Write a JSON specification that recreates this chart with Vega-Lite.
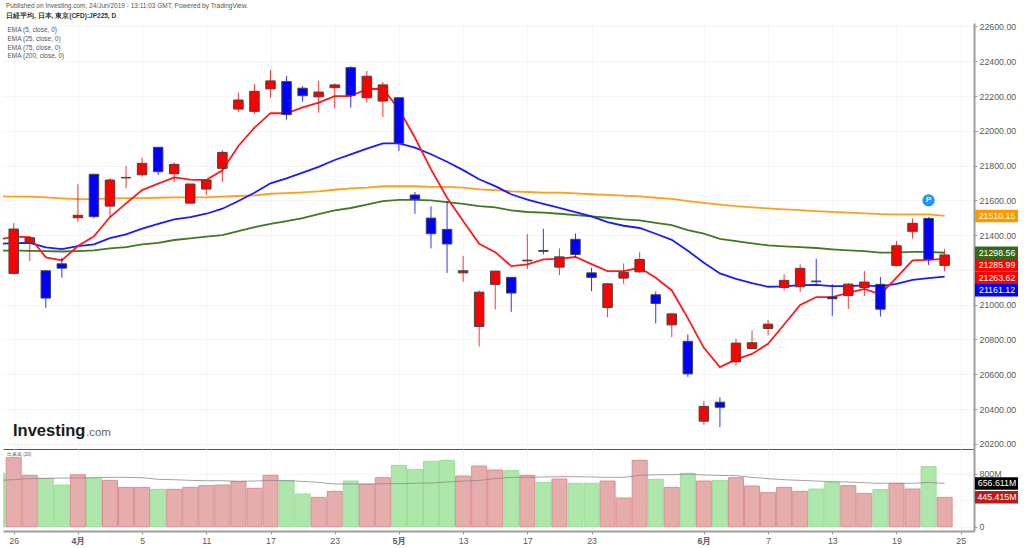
{"$schema":"https://vega.github.io/schema/vega-lite/v6.json","background":"white","padding":{"left":3,"top":2,"right":0,"bottom":0},"autosize":{"type":"pad"},"config":{"font":"Liberation Sans","view":{"stroke":null},"concat":{"spacing":0},"axis":{"gridColor":"#f5f5f5","gridWidth":1,"labelOverlap":false}},"title":{"text":"Published on Investing.com, 24/Jun/2019 - 13:11:03 GMT, Powered by TradingView.","subtitle":"日経平均, 日本, 東京(CFD):JP225, D","anchor":"start","frame":"group","fontSize":6.5,"fontWeight":"normal","color":"#555555","subtitleFontSize":6.5,"subtitleFontWeight":"bold","subtitleColor":"#333333","subtitlePadding":4,"dx":3,"offset":2.5},"datasets":{"days":[{"n":-1,"dir":"down","volume":810,"volMA":703,"ema5":21374,"ema25":21349,"ema75":21310,"ema200":21623},{"n":0,"dir":"up","open":21180,"high":21469,"low":21180,"close":21435,"volume":1047,"volMA":713,"ema5":21391,"ema25":21354,"ema75":21312,"ema200":21622},{"n":1,"dir":"up","open":21356,"high":21395,"low":21251,"close":21385,"volume":779,"volMA":729,"ema5":21389,"ema25":21356,"ema75":21310,"ema200":21621},{"n":2,"dir":"down","open":21195,"high":21195,"low":20982,"close":21038,"volume":734,"volMA":734,"ema5":21272,"ema25":21330,"ema75":21308,"ema200":21617},{"n":3,"dir":"down","open":21235,"high":21270,"low":21155,"close":21210,"volume":632,"volMA":739,"ema5":21255,"ema25":21320,"ema75":21306,"ema200":21611},{"n":4,"dir":"up","open":21500,"high":21692,"low":21477,"close":21514,"volume":789,"volMA":739,"ema5":21337,"ema25":21337,"ema75":21308,"ema200":21607},{"n":5,"dir":"down","open":21750,"high":21751,"low":21496,"close":21506,"volume":734,"volMA":744,"ema5":21393,"ema25":21347,"ema75":21312,"ema200":21607},{"n":6,"dir":"up","open":21567,"high":21728,"low":21500,"close":21717,"volume":703,"volMA":749,"ema5":21504,"ema25":21383,"ema75":21324,"ema200":21611},{"n":7,"dir":"up","open":21729,"high":21797,"low":21669,"close":21732,"volume":597,"volMA":749,"ema5":21583,"ema25":21404,"ema75":21331,"ema200":21613},{"n":8,"dir":"up","open":21747,"high":21845,"low":21736,"close":21813,"volume":597,"volMA":744,"ema5":21659,"ema25":21437,"ema75":21347,"ema200":21613},{"n":9,"dir":"down","open":21905,"high":21907,"low":21746,"close":21765,"volume":567,"volMA":719,"ema5":21696,"ema25":21465,"ema75":21356,"ema200":21615},{"n":10,"dir":"up","open":21753,"high":21819,"low":21705,"close":21807,"volume":567,"volMA":713,"ema5":21732,"ema25":21491,"ema75":21372,"ema200":21617},{"n":11,"dir":"up","open":21584,"high":21694,"low":21584,"close":21694,"volume":597,"volMA":703,"ema5":21719,"ema25":21504,"ema75":21381,"ema200":21617},{"n":12,"dir":"up","open":21665,"high":21717,"low":21632,"close":21717,"volume":622,"volMA":698,"ema5":21717,"ema25":21523,"ema75":21391,"ema200":21617},{"n":13,"dir":"up","open":21784,"high":21888,"low":21705,"close":21876,"volume":632,"volMA":698,"ema5":21773,"ema25":21552,"ema75":21400,"ema200":21621},{"n":14,"dir":"up","open":22125,"high":22219,"low":22108,"close":22177,"volume":688,"volMA":688,"ema5":21913,"ema25":21596,"ema75":21423,"ema200":21625},{"n":15,"dir":"up","open":22112,"high":22268,"low":22098,"close":22227,"volume":582,"volMA":693,"ema5":22018,"ema25":21644,"ema75":21446,"ema200":21629},{"n":16,"dir":"up","open":22241,"high":22350,"low":22190,"close":22287,"volume":779,"volMA":703,"ema5":22102,"ema25":21698,"ema75":21465,"ema200":21638},{"n":17,"dir":"down","open":22283,"high":22314,"low":22064,"close":22093,"volume":703,"volMA":698,"ema5":22101,"ema25":21727,"ema75":21481,"ema200":21642},{"n":18,"dir":"down","open":22245,"high":22258,"low":22167,"close":22202,"volume":496,"volMA":688,"ema5":22135,"ema25":21759,"ema75":21498,"ema200":21646},{"n":19,"dir":"up","open":22195,"high":22287,"low":22104,"close":22223,"volume":445,"volMA":673,"ema5":22162,"ema25":21793,"ema75":21521,"ema200":21652},{"n":20,"dir":"up","open":22248,"high":22273,"low":22129,"close":22264,"volume":536,"volMA":648,"ema5":22199,"ema25":21832,"ema75":21542,"ema200":21661},{"n":21,"dir":"down","open":22363,"high":22371,"low":22133,"close":22204,"volume":693,"volMA":648,"ema5":22200,"ema25":21865,"ema75":21556,"ema200":21669},{"n":22,"dir":"up","open":22190,"high":22344,"low":22162,"close":22314,"volume":643,"volMA":648,"ema5":22239,"ema25":21897,"ema75":21575,"ema200":21673},{"n":23,"dir":"up","open":22171,"high":22281,"low":22079,"close":22264,"volume":744,"volMA":653,"ema5":22242,"ema25":21928,"ema75":21596,"ema200":21681},{"n":24,"dir":"down","open":22190,"high":22190,"low":21884,"close":21928,"volume":931,"volMA":653,"ema5":22125,"ema25":21928,"ema75":21603,"ema200":21681},{"n":25,"dir":"down","open":21631,"high":21648,"low":21523,"close":21606,"volume":870,"volMA":658,"ema5":21960,"ema25":21903,"ema75":21603,"ema200":21681},{"n":26,"dir":"down","open":21498,"high":21566,"low":21324,"close":21408,"volume":992,"volMA":663,"ema5":21778,"ema25":21865,"ema75":21600,"ema200":21677},{"n":27,"dir":"down","open":21433,"high":21596,"low":21183,"close":21349,"volume":1007,"volMA":678,"ema5":21615,"ema25":21822,"ema75":21590,"ema200":21677},{"n":28,"dir":"up","open":21183,"high":21279,"low":21132,"close":21195,"volume":769,"volMA":693,"ema5":21481,"ema25":21774,"ema75":21580,"ema200":21673},{"n":29,"dir":"up","open":20875,"high":21082,"low":20760,"close":21072,"volume":921,"volMA":703,"ema5":21350,"ema25":21721,"ema75":21567,"ema200":21663},{"n":30,"dir":"up","open":21117,"high":21193,"low":20973,"close":21193,"volume":860,"volMA":729,"ema5":21302,"ema25":21682,"ema75":21560,"ema200":21659},{"n":31,"dir":"down","open":21157,"high":21157,"low":20959,"close":21067,"volume":850,"volMA":749,"ema5":21222,"ema25":21635,"ema75":21542,"ema200":21652},{"n":32,"dir":"up","open":21252,"high":21406,"low":21205,"close":21256,"volume":779,"volMA":749,"ema5":21232,"ema25":21604,"ema75":21533,"ema200":21648},{"n":33,"dir":"down","open":21312,"high":21437,"low":21289,"close":21307,"volume":673,"volMA":754,"ema5":21260,"ema25":21580,"ema75":21529,"ema200":21644},{"n":34,"dir":"up","open":21216,"high":21324,"low":21170,"close":21275,"volume":724,"volMA":759,"ema5":21264,"ema25":21557,"ema75":21523,"ema200":21644},{"n":35,"dir":"down","open":21376,"high":21410,"low":21274,"close":21289,"volume":658,"volMA":759,"ema5":21274,"ema25":21533,"ema75":21515,"ema200":21640},{"n":36,"dir":"down","open":21183,"high":21212,"low":21078,"close":21157,"volume":658,"volMA":754,"ema5":21233,"ema25":21508,"ema75":21508,"ema200":21635},{"n":37,"dir":"up","open":20984,"high":21120,"low":20928,"close":21120,"volume":693,"volMA":749,"ema5":21193,"ema25":21475,"ema75":21500,"ema200":21631},{"n":38,"dir":"up","open":21153,"high":21237,"low":21120,"close":21186,"volume":435,"volMA":749,"ema5":21193,"ema25":21454,"ema75":21491,"ema200":21627},{"n":39,"dir":"up","open":21189,"high":21304,"low":21183,"close":21260,"volume":1007,"volMA":779,"ema5":21212,"ema25":21441,"ema75":21485,"ema200":21623},{"n":40,"dir":"down","open":21057,"high":21076,"low":20892,"close":21007,"volume":719,"volMA":789,"ema5":21155,"ema25":21408,"ema75":21471,"ema200":21615},{"n":41,"dir":"up","open":20884,"high":20947,"low":20813,"close":20947,"volume":597,"volMA":789,"ema5":21082,"ema25":21373,"ema75":21458,"ema200":21609},{"n":42,"dir":"down","open":20789,"high":20829,"low":20585,"close":20602,"volume":810,"volMA":799,"ema5":20923,"ema25":21310,"ema75":21429,"ema200":21596},{"n":43,"dir":"up","open":20330,"high":20445,"low":20309,"close":20415,"volume":693,"volMA":784,"ema5":20752,"ema25":21241,"ema75":21408,"ema200":21585},{"n":44,"dir":"down","open":20439,"high":20468,"low":20295,"close":20410,"volume":703,"volMA":779,"ema5":20641,"ema25":21180,"ema75":21379,"ema200":21575},{"n":45,"dir":"up","open":20671,"high":20804,"low":20648,"close":20779,"volume":744,"volMA":774,"ema5":20685,"ema25":21149,"ema75":21366,"ema200":21567},{"n":46,"dir":"up","open":20748,"high":20850,"low":20748,"close":20781,"volume":617,"volMA":749,"ema5":20717,"ema25":21124,"ema75":21353,"ema200":21560},{"n":47,"dir":"up","open":20863,"high":20913,"low":20823,"close":20888,"volume":516,"volMA":729,"ema5":20775,"ema25":21103,"ema75":21341,"ema200":21554},{"n":48,"dir":"up","open":21099,"high":21174,"low":21080,"close":21140,"volume":597,"volMA":713,"ema5":20886,"ema25":21105,"ema75":21335,"ema200":21548},{"n":49,"dir":"up","open":21103,"high":21232,"low":21072,"close":21209,"volume":536,"volMA":703,"ema5":20999,"ema25":21113,"ema75":21331,"ema200":21544},{"n":50,"dir":"down","open":21136,"high":21264,"low":21117,"close":21132,"volume":572,"volMA":693,"ema5":21044,"ema25":21114,"ema75":21326,"ema200":21538},{"n":51,"dir":"down","open":21044,"high":21117,"low":20936,"close":21034,"volume":673,"volMA":683,"ema5":21044,"ema25":21107,"ema75":21318,"ema200":21534},{"n":52,"dir":"up","open":21053,"high":21126,"low":20976,"close":21118,"volume":622,"volMA":678,"ema5":21068,"ema25":21107,"ema75":21312,"ema200":21529},{"n":53,"dir":"up","open":21099,"high":21193,"low":21049,"close":21130,"volume":506,"volMA":668,"ema5":21091,"ema25":21111,"ema75":21308,"ema200":21525},{"n":54,"dir":"down","open":21117,"high":21159,"low":20932,"close":20974,"volume":562,"volMA":658,"ema5":21059,"ema25":21105,"ema75":21299,"ema200":21521},{"n":55,"dir":"up","open":21226,"high":21366,"low":21220,"close":21339,"volume":658,"volMA":658,"ema5":21155,"ema25":21120,"ema75":21299,"ema200":21519},{"n":56,"dir":"up","open":21422,"high":21496,"low":21381,"close":21468,"volume":572,"volMA":658,"ema5":21255,"ema25":21143,"ema75":21304,"ema200":21519},{"n":57,"dir":"down","open":21496,"high":21504,"low":21228,"close":21260,"volume":911,"volMA":673,"ema5":21258,"ema25":21153,"ema75":21304,"ema200":21519},{"n":58,"dir":"up","open":21226,"high":21321,"low":21191,"close":21285.99,"volume":445.415,"volMA":656.611,"ema5":21263.62,"ema25":21161.12,"ema75":21298.56,"ema200":21510.15}],"priceTags":[{"series":"ema200","price":21510.15,"label":"21510.15"},{"series":"ema75","price":21298.56,"label":"21298.56"},{"series":"close","price":21285.99,"label":"21285.99"},{"series":"ema5","price":21263.62,"label":"21263.62"},{"series":"ema25","price":21161.12,"label":"21161.12"}],"volumeTags":[{"series":"ma","volume":656.611,"label":"656.611M"},{"series":"volume","volume":445.415,"label":"445.415M"}]},"vconcat":[{"width":971,"height":426,"resolve":{"scale":{"color":"independent"}},"layer":[{"data":{"name":"priceTags"},"transform":[{"filter":"datum.series == 'close'"}],"mark":{"type":"rule","color":"#ff0000","strokeWidth":1,"strokeDash":[1,1],"opacity":0.5},"encoding":{"y":{"field":"price","type":"quantitative","scale":{"domain":[20170,22620],"nice":false,"zero":false},"axis":{"orient":"right","title":null,"tickCount":12,"labelExpr":"datum.value == 21200 ? '' : format(datum.value, '.2f')","labelOverlap":false,"labelColor":"#5a5a5a","labelFontSize":8.8,"labelPadding":2,"tickSize":3,"tickColor":"#9e9e9e","domainColor":"#9e9e9e","domainWidth":2,"grid":true}},"x":{"field":"none","type":"quantitative","scale":{"domain":[-0.667,59.83],"nice":false,"zero":false,"padding":0},"axis":{"title":null,"values":[0,4,8,12,16,20,24,28,32,36,43,47,51,55,59],"labels":false,"ticks":false,"domainColor":"#555555","domainWidth":1,"grid":true}}}},{"data":{"name":"days"},"transform":[{"fold":["ema200","ema75","ema25","ema5"],"as":["series","price"]}],"mark":{"type":"line","strokeWidth":1.8,"clip":true,"interpolate":"linear"},"encoding":{"x":{"field":"n","type":"quantitative"},"y":{"field":"price","type":"quantitative"},"color":{"field":"series","type":"nominal","scale":{"domain":["ema5","ema25","ema75","ema200"],"range":["#ff1a1a","#1a1aff","#3f7a1f","#ff9f1c"]},"legend":{"orient":"none","legendX":3,"legendY":4,"title":null,"symbolSize":0,"symbolStrokeWidth":0,"symbolOpacity":0,"labelFontSize":6.5,"labelColor":"#555555","labelOffset":-5,"rowPadding":1.7,"labelExpr":"'EMA (' + slice(datum.label,3) + ', close, 0)'"}}}},{"data":{"name":"days"},"transform":[{"filter":"datum.open != null"}],"mark":{"type":"rule","strokeWidth":1,"opacity":0.8},"encoding":{"x":{"field":"n","type":"quantitative"},"y":{"field":"high","type":"quantitative"},"y2":{"field":"low"},"color":{"field":"dir","type":"nominal","legend":null,"scale":{"domain":["up","down"],"range":["#ff0000","#0000ff"]}}}},{"data":{"name":"days"},"transform":[{"filter":"datum.open != null"}],"mark":{"type":"bar","size":9.5,"stroke":"#444444","strokeWidth":1,"cornerRadius":0},"encoding":{"x":{"field":"n","type":"quantitative"},"y":{"field":"open","type":"quantitative"},"y2":{"field":"close"},"color":{"field":"dir","type":"nominal","legend":null,"scale":{"domain":["up","down"],"range":["#ff0000","#0000ff"]}}}},{"data":{"name":"priceTags"},"mark":{"type":"rect","x":972,"x2":1015,"height":12.5,"clip":false,"yOffset":{"expr":"datum.series == 'close' ? 10.3 : datum.series == 'ema5' ? 18.9 : datum.series == 'ema25' ? 13.7 : 0"}},"encoding":{"y":{"field":"price","type":"quantitative"},"color":{"field":"series","type":"nominal","legend":null,"scale":{"domain":["ema200","ema75","close","ema5","ema25"],"range":["#ff9800","#33691e","#ff0000","#ff0000","#0000ff"]}}}},{"data":{"name":"priceTags"},"mark":{"type":"text","x":994,"color":"#ffffff","fontSize":8.8,"clip":false,"dy":{"expr":"datum.series == 'close' ? 10.3 : datum.series == 'ema5' ? 18.9 : datum.series == 'ema25' ? 13.7 : 0"}},"encoding":{"y":{"field":"price","type":"quantitative"},"text":{"field":"label"}}},{"data":{"values":[{"n":57,"price":21600,"flag":"P"}]},"mark":{"type":"circle","size":150,"color":"#2196f3","opacity":1},"encoding":{"x":{"field":"n","type":"quantitative"},"y":{"field":"price","type":"quantitative"}}},{"data":{"values":[{"n":57,"price":21600,"flag":"P"}]},"mark":{"type":"text","color":"#ffffff","fontSize":8,"fontWeight":"bold"},"encoding":{"x":{"field":"n","type":"quantitative"},"y":{"field":"price","type":"quantitative"},"text":{"field":"flag"}}},{"data":{"values":[{"brand":"Investing"}]},"mark":{"type":"text","x":10,"y":408,"align":"left","baseline":"middle","fontSize":16.5,"fontWeight":"bold","color":"#1a1a1a","letterSpacing":-0.6},"encoding":{"text":{"field":"brand"}}},{"data":{"values":[{"brand":".com"}]},"mark":{"type":"text","x":83,"y":410,"align":"left","baseline":"middle","fontSize":11.5,"color":"#666666"},"encoding":{"text":{"field":"brand"}}}]},{"width":971,"height":82,"resolve":{"scale":{"color":"independent"}},"layer":[{"data":{"name":"days"},"mark":{"type":"bar","size":15,"strokeWidth":1,"fillOpacity":1,"clip":true},"encoding":{"x":{"field":"n","type":"quantitative","scale":{"domain":[-0.667,59.83],"nice":false,"zero":false,"padding":0},"axis":{"title":null,"values":[0,4,8,12,16,20,24,28,32,36,43,47,51,55,59],"labelExpr":"['26','4月','5','11','17','23','5月','13','17','23','6月','7','13','19','25'][indexof([0,4,8,12,16,20,24,28,32,36,43,47,51,55,59],datum.value)]","labelFontWeight":{"expr":"indexof([4,24,43],datum.value) >= 0 ? 'bold' : 'normal'"},"labelColor":"#5a5a5a","labelFontSize":8.8,"labelPadding":2,"tickSize":3,"tickColor":"#9e9e9e","domainColor":"#9e9e9e","domainWidth":2,"grid":true}},"y":{"field":"volume","type":"quantitative","scale":{"domain":[-65,1179],"nice":false,"zero":false},"axis":{"orient":"right","title":null,"values":[0,400,800],"labelExpr":"datum.value == 0 ? '0' : datum.value == 800 ? '800M' : ''","labelColor":"#5a5a5a","labelFontSize":8.8,"labelPadding":2,"tickSize":3,"tickColor":"#9e9e9e","domainColor":"#9e9e9e","domainWidth":2,"grid":true}},"y2":{"datum":0},"color":{"field":"dir","type":"nominal","legend":null,"scale":{"domain":["up","down"],"range":["#e5adad","#aee6ac"]}},"stroke":{"field":"dir","type":"nominal","legend":null,"scale":{"domain":["up","down"],"range":["#dc8f8f","#98e094"]}}}},{"data":{"name":"days"},"mark":{"type":"line","color":"#8c8c8c","strokeWidth":1,"opacity":0.8,"clip":true},"encoding":{"x":{"field":"n","type":"quantitative"},"y":{"field":"volMA","type":"quantitative"}}},{"data":{"name":"volumeTags"},"mark":{"type":"rect","x":972,"x2":1015,"height":12.5,"clip":false},"encoding":{"y":{"field":"volume","type":"quantitative"},"color":{"field":"series","type":"nominal","legend":null,"scale":{"domain":["ma","volume"],"range":["#000000","#b71c1c"]}}}},{"data":{"name":"volumeTags"},"mark":{"type":"text","x":994,"color":"#ffffff","fontSize":8.8,"clip":false},"encoding":{"y":{"field":"volume","type":"quantitative"},"text":{"field":"label"}}},{"data":{"values":[{"name":"出来高 (20)"}]},"mark":{"type":"text","x":4,"y":6,"align":"left","baseline":"middle","fontSize":4.5,"color":"#555555"},"encoding":{"text":{"field":"name"}}}]}]}
